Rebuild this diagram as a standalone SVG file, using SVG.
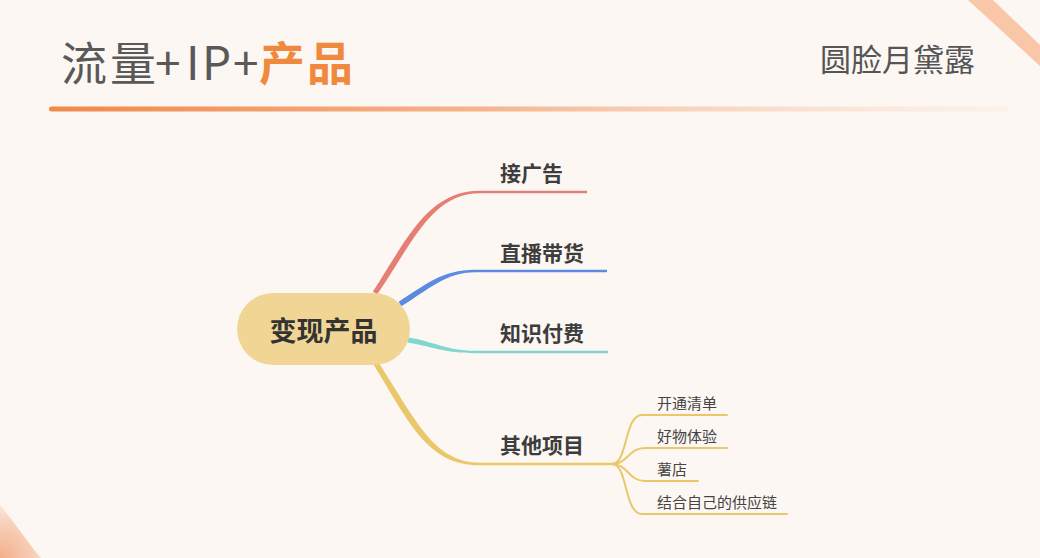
<svg xmlns="http://www.w3.org/2000/svg" width="1040" height="558" viewBox="0 0 1040 558">
<defs>
<linearGradient id="ul" x1="0" y1="0" x2="1" y2="0">
<stop offset="0" stop-color="#f08a4b"/>
<stop offset="0.45" stop-color="#f6b38c"/>
<stop offset="1" stop-color="#fbe3d4" stop-opacity="0.3"/>
</linearGradient>
<radialGradient id="bl" cx="0" cy="558" r="58" gradientUnits="userSpaceOnUse">
<stop offset="0" stop-color="#f3ae8a"/>
<stop offset="0.55" stop-color="#f7cdb5"/>
<stop offset="1" stop-color="#fbeee5"/>
</radialGradient>
<style>
.t{font-family:"Noto Sans CJK SC","Noto Sans",sans-serif}
.lbl{font-size:21px;font-weight:bold;fill:#3d3d3d}
.sub{font-size:15px;fill:#444}
.sl{fill:none;stroke:#e9c76a;stroke-width:2;stroke-linecap:round}
</style>
</defs>
<rect width="1040" height="558" fill="#fcf7f3"/>
<polygon points="968,0 993,0 1040,45 1040,66" fill="#f9c6a8"/>
<path d="M0,505 C16,524 28,543 41,558 L0,558 Z" fill="url(#bl)"/>
<g id="title">
<text class="t" y="80" font-size="46" fill="#595959"><tspan x="61">流</tspan><tspan x="110">量</tspan><tspan x="155">+</tspan><tspan x="186">I</tspan><tspan x="202">P</tspan><tspan x="233">+</tspan><tspan x="259" fill="#f0883e" font-weight="bold">产</tspan><tspan x="307" fill="#f0883e" font-weight="bold">品</tspan></text>
<text class="t" x="820" y="71" font-size="31" fill="#555">圆脸月黛露</text>
<rect x="49" y="106.5" width="960" height="5" rx="2.5" fill="url(#ul)"/>
</g>
<g id="connectors">
<path d="M372.9,291.6 C407,239 428,190.8 480,190.8 L587,190.8 L587,193.2 L480,193.2 C432,193.2 413,242 377.1,294.4 Z" fill="#e57f73"/>
<path d="M398.7,301.8 C425,285 442,269.8 475,269.8 L607,269.8 L607,272.2 L475,272.2 C446,272.2 428,290 401.3,306.2 Z" fill="#5b8be0"/>
<path d="M408.6,337.5 C432,341 447,350.8 475,350.8 L608,350.8 L608,353.2 L475,353.2 C445,353.2 430,346 407.4,342.5 Z" fill="#80d7cf"/>
<path d="M377.1,360.6 C415,418 433,462.8 480,462.8 L613,462.8 L613,465.2 L480,465.2 C427,465.2 409,422 372.9,363.4 Z" fill="#e9c76a"/>
<path class="sl" d="M612,464 C628,464 624,415 642,415 L727,415"/>
<path class="sl" d="M612,464 C628,464 628,448 645,448 L727,448"/>
<path class="sl" d="M612,464 C628,464 628,481 645,481 L698,481"/>
<path class="sl" d="M612,464 C628,464 624,514 642,514 L787,514"/>
</g>
<g id="root">
<rect x="237" y="293" width="173" height="72" rx="36" fill="#f0d594"/>
<text class="t" x="323.5" y="341" font-size="27" font-weight="bold" fill="#333" text-anchor="middle">变现产品</text>
</g>
<g id="n1"><text class="t lbl" x="500" y="181">接广告</text></g>
<g id="n2"><text class="t lbl" x="500" y="261">直播带货</text></g>
<g id="n3"><text class="t lbl" x="500" y="341">知识付费</text></g>
<g id="n4"><text class="t lbl" x="500" y="453">其他项目</text></g>
<g id="s1"><text class="t sub" x="657" y="409">开通清单</text></g>
<g id="s2"><text class="t sub" x="657" y="442">好物体验</text></g>
<g id="s3"><text class="t sub" x="657" y="475">薯店</text></g>
<g id="s4"><text class="t sub" x="657" y="508">结合自己的供应链</text></g>
</svg>
